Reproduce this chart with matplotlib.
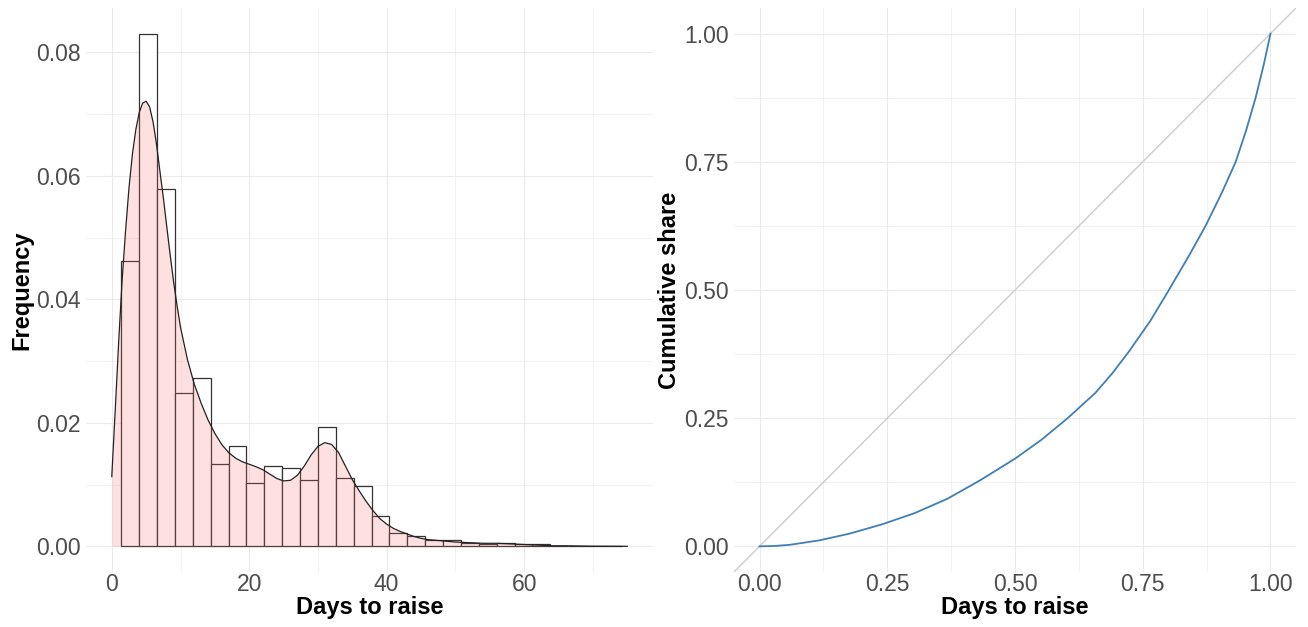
import numpy as np
import matplotlib
matplotlib.use('Agg')
import matplotlib.pyplot as plt
from matplotlib.ticker import MultipleLocator, FormatStrFormatter

plt.rcParams['font.family'] = ['Liberation Sans', 'DejaVu Sans']

# histogram of days to raise (density scale)
bin_start = 1.4
bin_width = 2.6
hist_heights = [0.0463, 0.0830, 0.0579, 0.0249, 0.0273, 0.0133, 0.0163, 0.0102,
                0.0130, 0.0127, 0.0108, 0.0194, 0.0110, 0.0098, 0.0049, 0.0022,
                0.0017, 0.0010, 0.0010, 0.0005, 0.0004, 0.0006, 0.0004, 0.0004,
                0.0001, 0.0001, 0.0000, 0.0000]

# kernel density curve
dens_days = [0, 0.5, 1, 1.5, 2, 2.5, 3, 3.5, 4, 4.5, 5, 5.5, 6, 6.5, 7, 7.5, 8, 8.5,
             9, 9.5, 10, 11, 12, 13, 14, 15, 16, 17, 18, 19, 20, 21, 22, 23, 24, 25,
             26, 27, 28, 29, 30, 31, 32, 33, 34, 35, 36, 37, 38, 39, 40, 41, 42, 43,
             44, 45, 46, 48, 50, 52, 54, 56, 58, 60, 62, 64, 66, 70, 75]
dens_vals = [0.0113, 0.0220, 0.0330, 0.0430, 0.0510, 0.0580, 0.0635, 0.0675, 0.0703,
             0.0718, 0.0721, 0.0712, 0.0688, 0.0652, 0.0608, 0.0565, 0.0518, 0.0472,
             0.0428, 0.0390, 0.0355, 0.0303, 0.0263, 0.0232, 0.0205, 0.0183, 0.0165,
             0.0152, 0.0143, 0.0137, 0.0133, 0.0129, 0.0124, 0.0117, 0.0110, 0.0106,
             0.0107, 0.0115, 0.0130, 0.0148, 0.0162, 0.0168, 0.0165, 0.0152, 0.0130,
             0.0108, 0.0090, 0.0073, 0.0058, 0.0045, 0.0036, 0.0029, 0.0024, 0.0020,
             0.0016, 0.0013, 0.0011, 0.0009, 0.0007, 0.0006, 0.0005, 0.0005, 0.0004,
             0.0003, 0.0002, 0.0001, 0.0001, 0.00003, 0.00001]

# cumulative share curve
share_x = [0.0, 0.030, 0.059, 0.117, 0.176, 0.240, 0.304, 0.368, 0.432, 0.500, 0.552,
           0.603, 0.657, 0.690, 0.723, 0.765, 0.800, 0.840, 0.873, 0.905, 0.932, 0.952,
           0.971, 0.987, 1.0]
share_y = [0.0, 0.0008, 0.003, 0.0117, 0.0248, 0.043, 0.065, 0.093, 0.129, 0.171, 0.208,
           0.250, 0.299, 0.337, 0.380, 0.440, 0.498, 0.566, 0.625, 0.690, 0.750, 0.810,
           0.875, 0.940, 1.0]

tick_color = '#4D4D4D'
grid_color = '#EBEBEB'

fig = plt.figure(figsize=(13.08, 6.27), dpi=100)
ax1 = fig.add_axes([86 / 1308, (627 - 572) / 627, (653 - 86) / 1308, 564 / 627])
ax2 = fig.add_axes([734 / 1308, (627 - 572) / 627, (1296 - 734) / 1308, 564 / 627])

for ax in (ax1, ax2):
    for s in ax.spines.values():
        s.set_visible(False)
    ax.tick_params(length=0, labelsize=16.5, labelcolor=tick_color)
    ax.tick_params(axis='x', pad=1)
    ax.tick_params(axis='y', pad=4)
    ax.grid(True, which='major', color=grid_color, linewidth=0.8)
    ax.grid(True, which='minor', color=grid_color, linewidth=0.45)
    ax.set_axisbelow(True)

# left panel
edges = bin_start + bin_width * np.arange(len(hist_heights))
ax1.bar(edges, hist_heights, width=bin_width, align='edge', facecolor='white',
        edgecolor='#333333', linewidth=0.9, zorder=2)
ax1.fill_between(dens_days, dens_vals, 0, color='#FF6666', alpha=0.2, linewidth=0, zorder=3)
ax1.plot(dens_days, dens_vals, color='#222222', linewidth=0.9, zorder=4)
ax1.set_xlim(-3.75, 78.75)
ax1.set_ylim(-0.00415, 0.0872)
ax1.xaxis.set_major_locator(MultipleLocator(20))
ax1.xaxis.set_minor_locator(MultipleLocator(10))
ax1.yaxis.set_major_locator(MultipleLocator(0.02))
ax1.yaxis.set_minor_locator(MultipleLocator(0.01))
ax1.yaxis.set_major_formatter(FormatStrFormatter('%.2f'))
ax1.tick_params(which='minor', length=0)
ax1.set_xlabel('Days to raise', fontsize=17, fontweight='bold', labelpad=0)
ax1.set_ylabel('Frequency', fontsize=17, fontweight='bold', labelpad=2)

# right panel
ax2.axline((0, 0), slope=1, color='#CCCCCC', linewidth=1.0, zorder=2)
ax2.plot(share_x, share_y, color='#3F7FB5', linewidth=1.3, zorder=3)
ax2.set_xlim(-0.05, 1.05)
ax2.set_ylim(-0.05, 1.05)
ax2.xaxis.set_major_locator(MultipleLocator(0.25))
ax2.xaxis.set_minor_locator(MultipleLocator(0.125))
ax2.yaxis.set_major_locator(MultipleLocator(0.25))
ax2.yaxis.set_minor_locator(MultipleLocator(0.125))
ax2.xaxis.set_major_formatter(FormatStrFormatter('%.2f'))
ax2.yaxis.set_major_formatter(FormatStrFormatter('%.2f'))
ax2.tick_params(which='minor', length=0)
ax2.set_xlabel('Days to raise', fontsize=17, fontweight='bold', labelpad=0)
ax2.set_ylabel('Cumulative share', fontsize=17, fontweight='bold', labelpad=2)

fig.savefig('out.png', dpi=100, facecolor='white')
